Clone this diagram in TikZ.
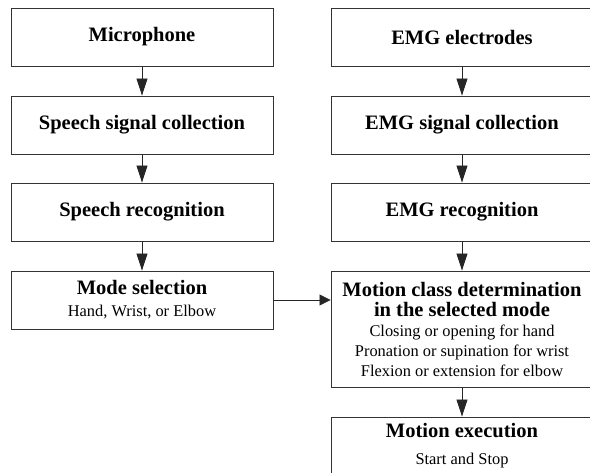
\documentclass[tikz,border=0pt]{standalone}
\usepackage{fontspec}
\setmainfont{Liberation Serif}
\usepackage{tikz}
\usetikzlibrary{arrows.meta}

\newcommand{\ttl}[1]{{\fontsize{20.5}{20}\selectfont\bfseries #1}}
\newcommand{\sub}[1]{{\fontsize{16.4}{20}\selectfont #1}}

\begin{document}
\begin{tikzpicture}[x=1pt, y=-1pt,
        block/.style={rectangle, draw=black!80, line width=0.9pt, fill=white,
                      minimum width=262pt, minimum height=58pt, inner sep=0pt, align=center,
                      font=\fontsize{16.4}{20}\selectfont},
        flow/.style={draw=black!85, line width=0.8pt, -{Triangle[length=17pt, width=11pt]}},
        side/.style={draw=black!85, line width=0.8pt, -{Triangle[length=11pt, width=11pt]}}]
            \useasboundingbox (0, 0) rectangle (590, 473);
            \clip (0, 0) rectangle (590, 473);
            \fill[white] (0, 0) rectangle (590, 473);
            % speech side
            \node[block] (mic) at (142, 37) {\ttl{Microphone}};
            \node[block] (ssc) at (142, 125) {\ttl{Speech signal collection}};
            \node[block] (sr) at (142, 212) {\ttl{Speech recognition}};
            \node[block] (mode) at (142, 300) {\ttl{Mode selection}\\[2pt]\sub{Hand, Wrist, or Elbow}};
            % EMG side
            \node[block] (ele) at (462, 37) {\ttl{EMG electrodes}};
            \node[block] (emgc) at (462, 125) {\ttl{EMG signal collection}};
            \node[block] (emgr) at (462, 212) {\ttl{EMG recognition}};
            \node[block, minimum height=116pt] (mcd) at (462, 329)
                {\ttl{Motion class determination}\\\ttl{in the selected mode}\\
                 \sub{Closing or opening for hand}\\\sub{Pronation or supination for wrist}\\\sub{Flexion or extension for elbow}};
            \node[block] (exe) at (462, 446) {\ttl{Motion execution}\\[7pt]\sub{Start and Stop}};
            % arrows
            \draw[flow] (mic) -- (ssc);
            \draw[flow] (ssc) -- (sr);
            \draw[flow] (sr) -- (mode);
            \draw[flow] (ele) -- (emgc);
            \draw[flow] (emgc) -- (emgr);
            \draw[flow] (emgr) -- (mcd);
            \draw[flow] (mcd) -- (exe);
            \draw[side] (mode.east) -- (mode.east -| mcd.west);
        \end{tikzpicture}
\end{document}
